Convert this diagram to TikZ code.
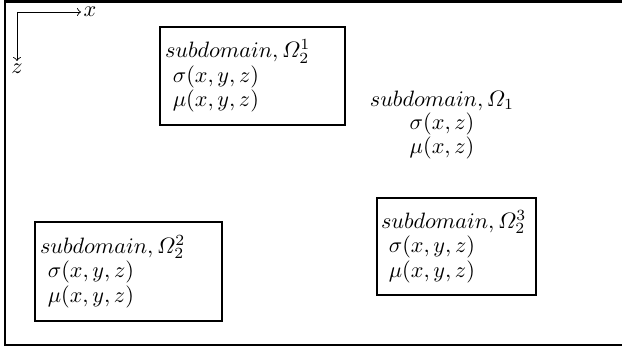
\documentclass[tikz,border=0pt]{standalone}
\usepackage{amsmath}
\def\U{0.45}
\begin{document}
\begin{tikzpicture}[x=\U pt,y=-\U pt,
  frame/.style={line width=1.3pt},
  subbox/.style={draw, line width=0.5pt, inner sep=0pt, align=left, font=\fontsize{10pt}{11pt}\selectfont},
  plain/.style={inner sep=0pt, align=center, font=\fontsize{10pt}{10.5pt}\selectfont},
  axis/.style={->, line width=0.4pt},
  axlabel/.style={inner sep=1pt, font=\fontsize{10pt}{11pt}\selectfont}]
\useasboundingbox (0,0) rectangle (622,349);
\draw[frame] (630,1.5) -- (5,1.5) -- (5,345) -- (630,345);
% axes
\coordinate (o) at (17,12);
\node[axlabel, anchor=west] (xl) at (81,12) {$x$};
\node[axlabel, anchor=north] (zl) at (17,61) {$z$};
\draw[axis] (o) -- (xl.west);
\draw[axis] (o) -- (zl.north);
% subdomains
\node[subbox, minimum width=185*\U pt, minimum height=98*\U pt, text width=175*\U pt] (b1) at (252.5,76)
  {$subdomain,\varOmega_2^1$\\\hspace{3.5pt}$\sigma(x,y,z)$\\\hspace{3.5pt}$\mu(x,y,z)$};
\node[subbox, minimum width=187*\U pt, minimum height=99*\U pt, text width=177*\U pt] (b2) at (128.5,271.5)
  {$subdomain,\varOmega_2^2$\\\hspace{3.5pt}$\sigma(x,y,z)$\\\hspace{3.5pt}$\mu(x,y,z)$};
\node[subbox, minimum width=159*\U pt, minimum height=97*\U pt, text width=151*\U pt] (b3) at (456.5,246.5)
  {$subdomain,\varOmega_2^3$\\\hspace{3.5pt}$\sigma(x,y,z)$\\\hspace{3.5pt}$\mu(x,y,z)$};
\node[plain] (d1) at (442,125)
  {$subdomain,\varOmega_1$\\$\sigma(x,z)$\\$\mu(x,z)$};
\end{tikzpicture}
\end{document}
